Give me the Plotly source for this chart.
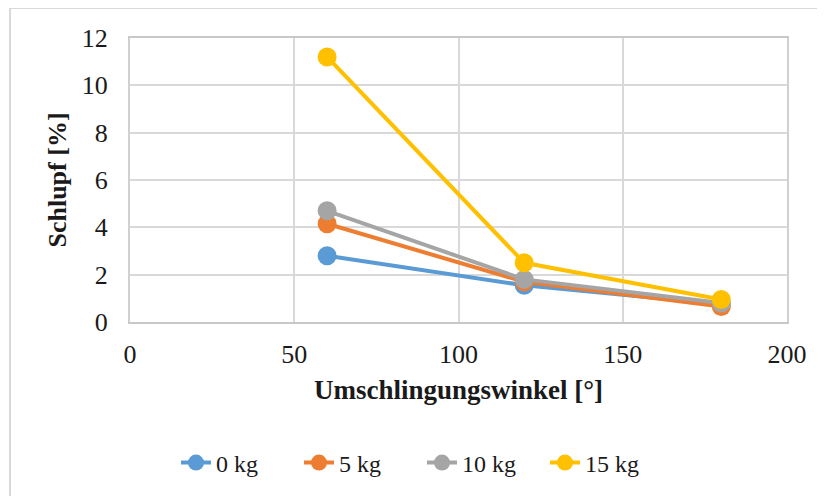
import plotly.graph_objects as go

angles = [60, 120, 180]
series_names = ["0 kg", "5 kg", "10 kg", "15 kg"]
slip_0kg = [2.8, 1.55, 0.75]
slip_5kg = [4.15, 1.7, 0.65]
slip_10kg = [4.7, 1.8, 0.8]
slip_15kg = [11.2, 2.5, 0.95]
colors = ["#5B9BD5", "#ED7D31", "#A5A5A5", "#FFC000"]

x_ticks = [0, 50, 100, 150, 200]
y_ticks = [0, 2, 4, 6, 8, 10, 12]

FONT = "Liberation Serif"

fig = go.Figure()
for name, vals, col in zip(series_names, [slip_0kg, slip_5kg, slip_10kg, slip_15kg], colors):
    fig.add_trace(go.Scatter(
        x=angles, y=vals, name=name, mode="lines+markers",
        line=dict(color=col, width=4),
        marker=dict(color=col, size=19),
    ))

# page body has an 8px offset, so figure coordinates = screen - 8
OFF = 8
W, H = 825, 496
L, T = 130 - OFF, 38 - OFF
R, B = W - (787 - OFF), H - (322 - OFF)
pw, ph = W - L - R, H - T - B

fig.update_layout(
    width=W, height=H,
    margin=dict(l=L, r=R, t=T, b=B, autoexpand=False),
    paper_bgcolor="white", plot_bgcolor="white",
    font=dict(family=FONT, size=26, color="#1a1a1a"),
    showlegend=True,
    legend=dict(orientation="h", x=(422 - 130) / pw, xanchor="center", y=(322 - 463) / ph, yanchor="middle",
                font=dict(size=24), entrywidth=78, entrywidthmode="pixels",
                tracegroupgap=0, bgcolor="rgba(0,0,0,0)"),
    xaxis=dict(
        range=[0, 200], tickvals=x_ticks, showgrid=True, gridcolor="#D9D9D9", gridwidth=2,
        showline=True, linecolor="#C8C8C8", linewidth=2, mirror=True, zeroline=False,
        ticks="", ticklabelstandoff=8, automargin=False, tickfont=dict(size=26),
        title=dict(text="<b>Umschlingungswinkel [°]</b>", font=dict(size=27), standoff=12),
    ),
    yaxis=dict(
        range=[0, 12], tickvals=y_ticks, showgrid=True, gridcolor="#D9D9D9", gridwidth=2,
        showline=True, linecolor="#D0D0D0", linewidth=2, mirror=True, zeroline=False,
        ticks="", ticklabelstandoff=15, automargin=False, tickfont=dict(size=26),
        title=dict(text="<b>Schlupf [%]</b>", font=dict(size=26), standoff=8),
    ),
)

# outer chart-area frame
fig.add_shape(type="rect", xref="paper", yref="paper",
              x0=(10 - 130) / pw, x1=(W + 20 - 130) / pw,
              y0=(322 - (H + 20)) / ph, y1=1 + (38 - 8) / ph,
              line=dict(color="#D9D9D9", width=2), fillcolor="rgba(0,0,0,0)", layer="below")

fig.write_html("out.html")
